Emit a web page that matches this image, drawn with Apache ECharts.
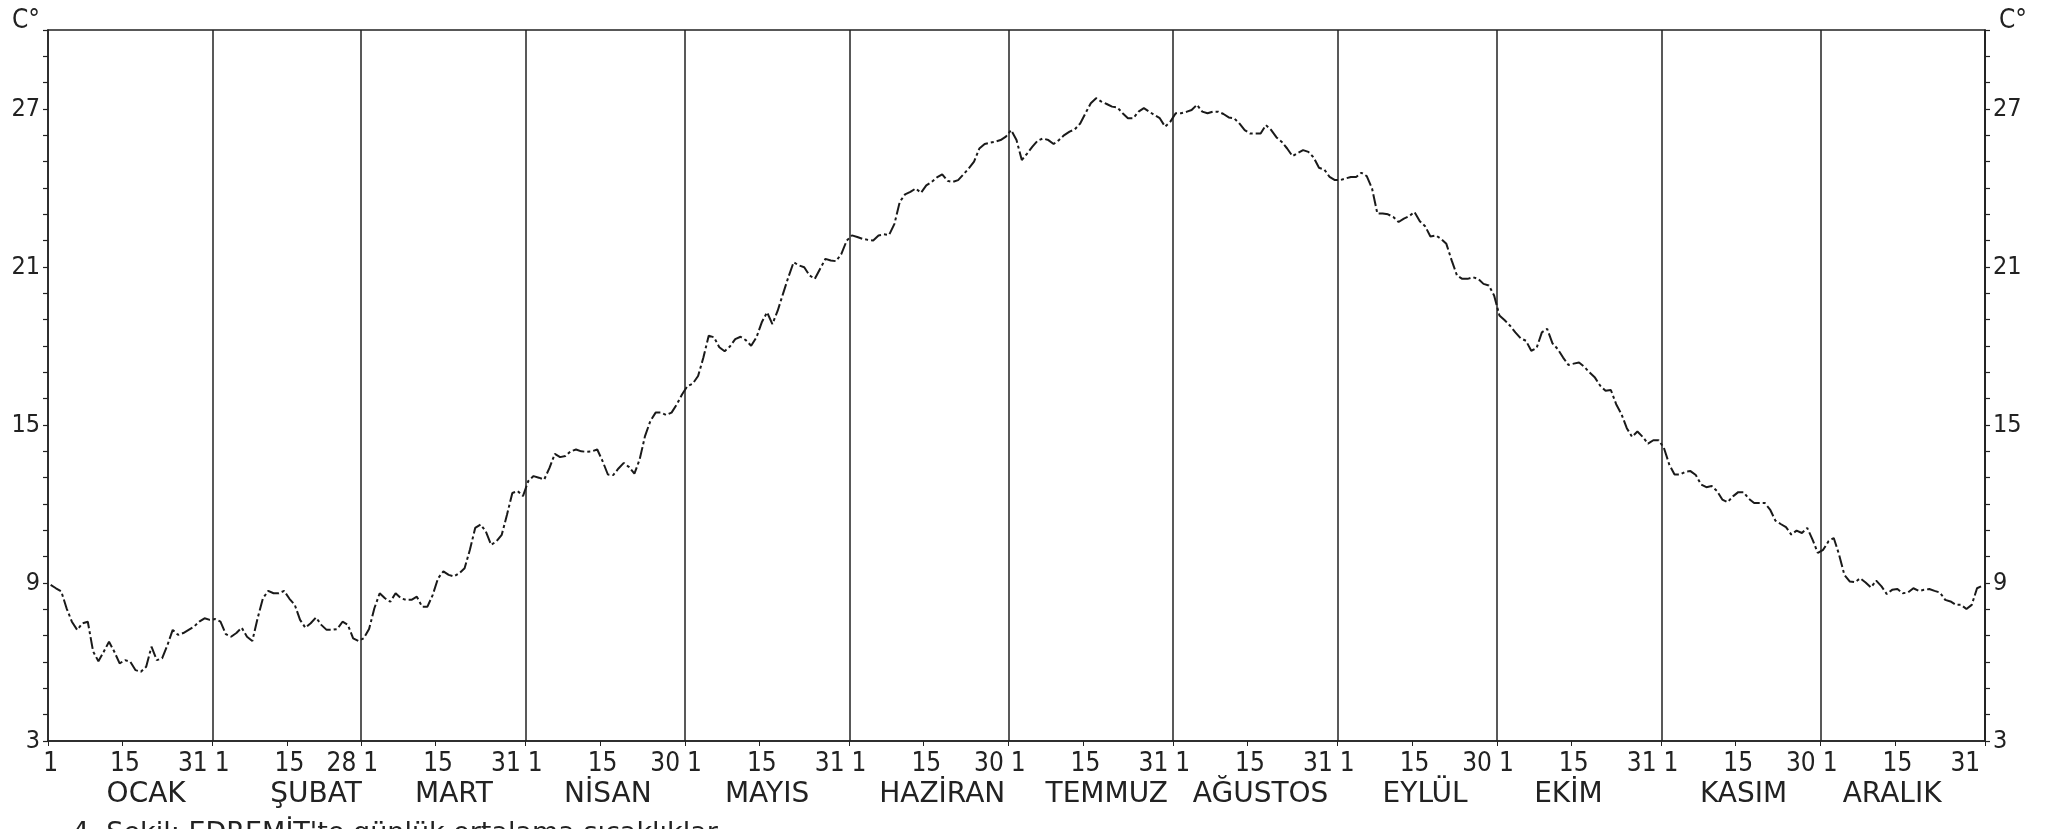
<!DOCTYPE html>
<html>
<head>
<meta charset="utf-8">
<script src="https://cdn.jsdelivr.net/npm/echarts@6/dist/echarts.min.js"></script>
<style>
html, body { margin: 0; padding: 0; background: #fff; }
#chart { width: 2059px; height: 829px; }
</style>
</head>
<body>
<div id="chart"></div>
<script>
// ay adlari ve gun sayilari
var monthNames = ['OCAK', 'ŞUBAT', 'MART', 'NİSAN', 'MAYIS', 'HAZİRAN', 'TEMMUZ', 'AĞUSTOS', 'EYLÜL', 'EKİM', 'KASIM', 'ARALIK'];
var monthDays = [31, 28, 31, 30, 31, 30, 31, 31, 30, 31, 30, 31];
// ay adinin altina yazildigi gun (orijinal cizimdeki gibi)
var monthLabelDay = [19, 20, 18, 16, 16, 18, 19, 17, 17, 14, 16, 14];
var yLabels = [3, 9, 15, 21, 27];
var caption = "4. Şekil: EDREMİT'te günlük ortalama sıcaklıklar";

// gunluk ortalama sicakliklar (C)
var jan = [8.93, 8.80, 8.68, 8.04, 7.53, 7.22, 7.47, 7.53, 6.4, 6.03, 6.39, 6.77, 6.39, 5.95, 6.07, 6.01, 5.69, 5.63, 5.82, 6.58, 6.07, 6.14, 6.64, 7.22, 7.03, 7.10, 7.22, 7.34, 7.53, 7.66, 7.60];
var feb = [7.63, 7.53, 7.06, 6.96, 7.10, 7.30, 6.96, 6.80, 7.66, 8.42, 8.70, 8.61, 8.61, 8.70, 8.40, 8.17, 7.60, 7.30, 7.47, 7.69, 7.41, 7.22, 7.22, 7.25, 7.53, 7.41, 6.90, 6.80];
var mar = [6.9, 7.25, 8.04, 8.61, 8.42, 8.29, 8.61, 8.42, 8.36, 8.36, 8.48, 8.1, 8.1, 8.55, 9.18, 9.44, 9.31, 9.25, 9.37, 9.56, 10.26, 11.09, 11.22, 10.96, 10.45, 10.58, 10.83, 11.6, 12.42, 12.49, 12.3];
var apr = [12.87, 13.06, 13.0, 12.93, 13.37, 13.9, 13.78, 13.82, 14.0, 14.07, 14.0, 13.98, 14.0, 14.07, 13.63, 13.12, 13.1, 13.35, 13.56, 13.4, 13.15, 13.7, 14.58, 15.15, 15.47, 15.47, 15.38, 15.47, 15.79, 16.17];
var may = [16.48, 16.57, 16.86, 17.56, 18.39, 18.33, 17.95, 17.8, 17.98, 18.26, 18.35, 18.22, 18.01, 18.33, 18.9, 19.28, 18.83, 19.34, 19.98, 20.61, 21.18, 21.06, 20.99, 20.68, 20.55, 20.93, 21.31, 21.25, 21.22, 21.5, 22.0];
var jun = [22.2, 22.14, 22.07, 22.03, 22.01, 22.2, 22.24, 22.22, 22.64, 23.47, 23.76, 23.85, 23.98, 23.82, 24.1, 24.23, 24.4, 24.52, 24.27, 24.23, 24.3, 24.52, 24.74, 25.0, 25.5, 25.67, 25.72, 25.76, 25.82, 25.95];
var jul = [26.2, 25.82, 25.06, 25.31, 25.57, 25.8, 25.88, 25.82, 25.67, 25.82, 26.01, 26.14, 26.23, 26.45, 26.84, 27.22, 27.41, 27.28, 27.19, 27.09, 27.06, 26.84, 26.65, 26.65, 26.9, 27.03, 26.9, 26.77, 26.65, 26.33, 26.52];
var aug = [26.84, 26.84, 26.89, 26.96, 27.16, 26.9, 26.84, 26.9, 26.9, 26.81, 26.68, 26.65, 26.45, 26.2, 26.07, 26.07, 26.07, 26.39, 26.2, 25.92, 25.75, 25.5, 25.21, 25.33, 25.44, 25.37, 25.16, 24.77, 24.7, 24.42, 24.3];
var sep = [24.3, 24.36, 24.42, 24.42, 24.58, 24.45, 23.98, 23.03, 23.03, 23.0, 22.9, 22.71, 22.84, 22.93, 23.09, 22.74, 22.55, 22.16, 22.2, 22.07, 21.88, 21.25, 20.68, 20.55, 20.55, 20.61, 20.55, 20.36, 20.3, 19.92];
var oct = [19.16, 18.98, 18.77, 18.52, 18.29, 18.2, 17.82, 17.92, 18.52, 18.65, 18.1, 17.88, 17.56, 17.28, 17.33, 17.37, 17.21, 16.99, 16.8, 16.49, 16.3, 16.33, 15.79, 15.41, 14.88, 14.55, 14.75, 14.55, 14.29, 14.42, 14.42];
var nov = [14.13, 13.5, 13.12, 13.12, 13.22, 13.25, 13.1, 12.74, 12.64, 12.68, 12.49, 12.17, 12.07, 12.29, 12.45, 12.45, 12.2, 12.04, 12.04, 12.04, 11.79, 11.37, 11.24, 11.12, 10.84, 10.99, 10.9, 11.09, 10.65, 10.14];
var dec = [10.26, 10.58, 10.71, 10.08, 9.31, 9.06, 9.03, 9.18, 9.02, 8.83, 9.09, 8.87, 8.58, 8.74, 8.77, 8.61, 8.64, 8.8, 8.7, 8.74, 8.77, 8.7, 8.64, 8.36, 8.3, 8.17, 8.17, 8.01, 8.17, 8.8, 8.9];

var temps = [].concat(jan, feb, mar, apr, may, jun, jul, aug, sep, oct, nov, dec);

// gun kategorileri
var days = [], isLast = [], monthAt = {};
var start = 0;
monthDays.forEach(function (n, m) {
	for (var d = 1; d <= n; d++) {
		days.push(String(d));
		isLast.push(d === n);
	}
	monthAt[start + monthLabelDay[m] - 1] = monthNames[m];
	start += n;
});

var FONT = "'DejaVu Sans Condensed', 'Liberation Sans Narrow', sans-serif";
var WIDE = "'DejaVu Sans', sans-serif";
var INK = '#222';

function yAxisDef(pos) {
	return {
		type: 'value',
		position: pos,
		min: 3,
		max: 30,
		interval: 1,
		name: 'C°',
		nameLocation: 'end',
		nameGap: -4,
		nameTextStyle: {
			fontSize: 26, color: INK, fontFamily: FONT,
			align: pos === 'left' ? 'right' : 'left',
			padding: pos === 'left' ? [0, 8, 0, 0] : [0, 0, 0, 14]
		},
		axisLine: { show: true, lineStyle: { color: INK, width: 1.5 } },
		axisTick: { show: true, length: 5, lineStyle: { color: INK, width: 1.2 } },
		axisLabel: {
			fontSize: 25, color: INK, fontFamily: FONT, margin: 8,
			formatter: function (v) { return yLabels.indexOf(v) >= 0 ? String(v) : ''; }
		},
		splitLine: { show: false }
	};
}

var myChart = echarts.init(document.getElementById('chart'));
var option = {
	animation: false,
	backgroundColor: '#fff',
	grid: {
		left: 48, right: 74, top: 30, bottom: 88,
		show: true, borderColor: INK, borderWidth: 1.5,
		outerBoundsMode: 'none'
	},
	xAxis: [{
		type: 'category',
		data: days,
		boundaryGap: true,
		position: 'bottom',
		axisLine: { lineStyle: { color: INK, width: 1.5 } },
		axisTick: {
			show: true, length: 5,
			interval: function (i) { return days[i] === '1' || days[i] === '15'; },
			lineStyle: { color: INK }
		},
		splitLine: {
			show: true,
			interval: function (i) { return days[i] === '1' && i > 0; },
			lineStyle: { color: INK, width: 1.5 }
		},
		axisLabel: {
			fontSize: 26, color: INK, fontFamily: FONT, margin: 10,
			interval: function (i) { return days[i] === '1' || days[i] === '15' || isLast[i]; },
			formatter: function (v, i) {
				if (isLast[i]) return '{e|' + v + '}';
				if (v === '1' && i > 0) return '{s|' + v + '}';
				return v;
			},
			rich: {
				e: { padding: [0, 34, 0, 0] },
				s: { padding: [0, 0, 0, 14] }
			}
		}
	}, {
		type: 'category',
		data: days,
		boundaryGap: true,
		position: 'bottom',
		offset: 32,
		axisLine: { show: false },
		axisTick: { show: false },
		splitLine: { show: false },
		axisLabel: {
			fontSize: 28, color: INK, fontFamily: WIDE, margin: 8,
			interval: function (i) { return monthAt[i] !== undefined; },
			formatter: function (v, i) { return monthAt[i] || ''; }
		}
	}],
	yAxis: [yAxisDef('left'), yAxisDef('right')],
	graphic: [{
		type: 'text',
		left: 72,
		top: 820,
		style: { text: caption, fontSize: 27, fill: INK, fontFamily: WIDE }
	}],
	series: [{
		type: 'line',
		xAxisIndex: 0,
		yAxisIndex: 0,
		data: temps,
		showSymbol: false,
		lineStyle: { color: '#1a1a1a', width: 2, type: [12, 3, 3, 3] }
	}]
};
myChart.setOption(option);
</script>
</body>
</html>
